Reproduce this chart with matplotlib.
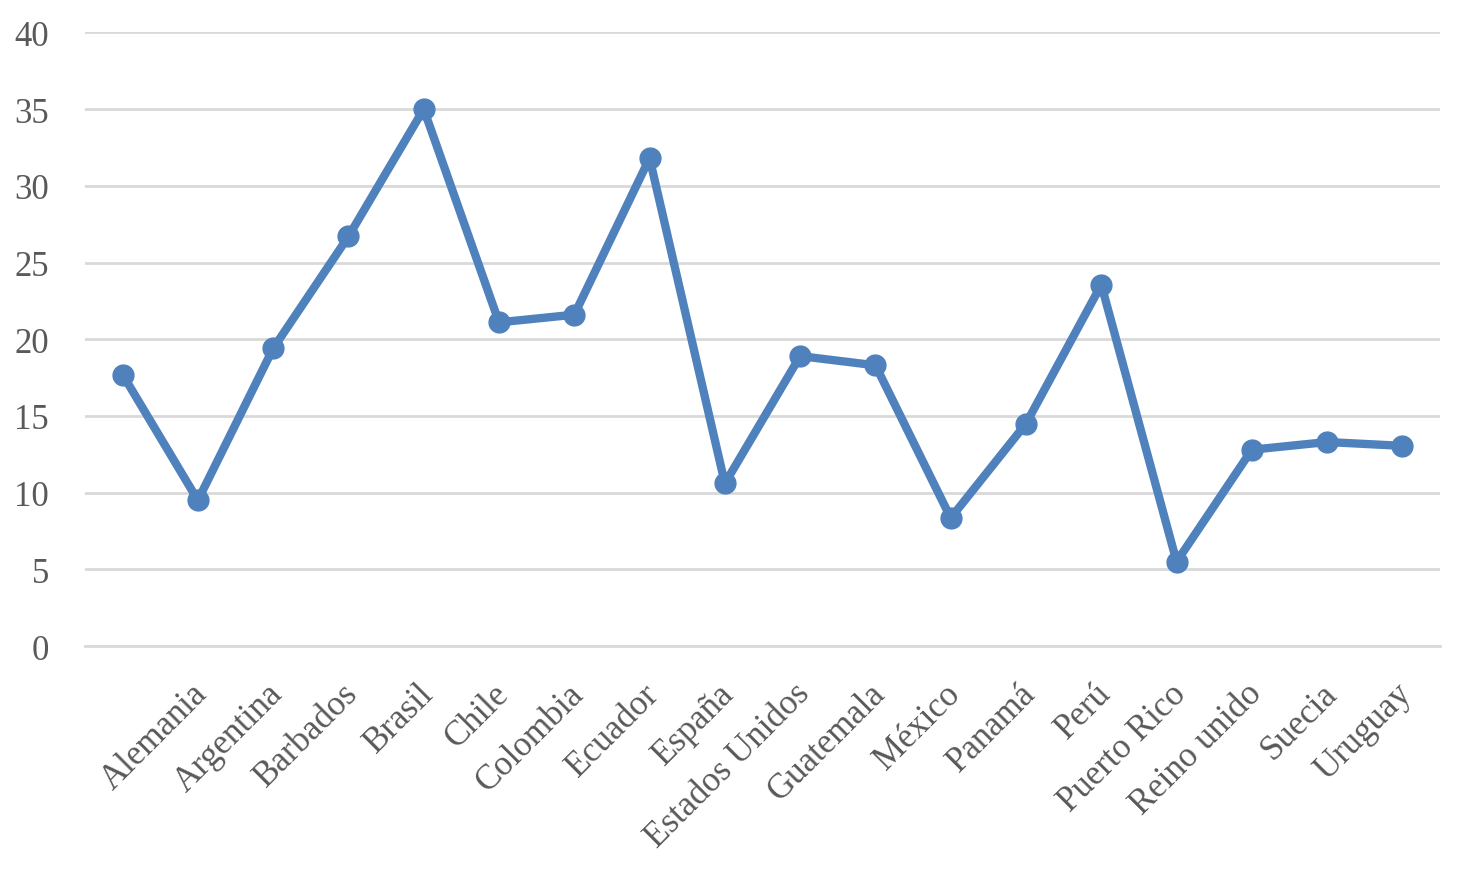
import numpy as np
import matplotlib
matplotlib.use("Agg")
import matplotlib.pyplot as plt
from matplotlib.transforms import ScaledTranslation

# categories (first one has no label in the original)
paises = ["", "Alemania", "Argentina", "Barbados", "Brasil", "Chile", "Colombia",
          "Ecuador", "España", "Estados Unidos", "Guatemala", "México", "Panamá",
          "Perú", "Puerto Rico", "Reino unido", "Suecia", "Uruguay"]
valores = [17.7, 9.5, 19.4, 26.7, 35.0, 21.1, 21.6, 31.8, 10.6, 18.9, 18.3,
           8.35, 14.5, 23.55, 5.5, 12.8, 13.3, 13.05]
yticks = [0, 5, 10, 15, 20, 25, 30, 35, 40]

plt.rcParams['font.family'] = ['Liberation Serif', 'DejaVu Serif']

fig = plt.figure(figsize=(14.65, 8.78), dpi=100)
ax = fig.add_axes([0.058, 0.263, 0.925, 0.699])

x = np.arange(len(paises))
ax.plot(x, valores, color="#4F81BD", lw=6, marker="o", markersize=15,
        solid_joinstyle="round", zorder=3)

ax.set_xlim(-0.5, len(paises) - 0.5)
ax.set_ylim(0, 40)
ax.set_yticks(yticks)
ax.grid(True, axis="y", color="#D9D9D9", lw=2)
ax.set_axisbelow(True)
for s in ["top", "right", "left"]:
    ax.spines[s].set_visible(False)
ax.spines["bottom"].set_color("#D9D9D9")
ax.spines["bottom"].set_linewidth(2)

ax.set_xticks(x)
ax.set_xticklabels(paises, rotation=45, ha="right", rotation_mode="anchor")
ax.tick_params(axis="x", length=0, pad=22, labelsize=25, labelcolor="#595959")
ax.tick_params(axis="y", length=0, pad=26, labelsize=25, labelcolor="#595959")

# nudge rotated labels a bit to the left
offset = ScaledTranslation(-7 / 100, 0, fig.dpi_scale_trans)
for lbl in ax.get_xticklabels():
    lbl.set_transform(lbl.get_transform() + offset)

fig.savefig("out.png", dpi=100)
